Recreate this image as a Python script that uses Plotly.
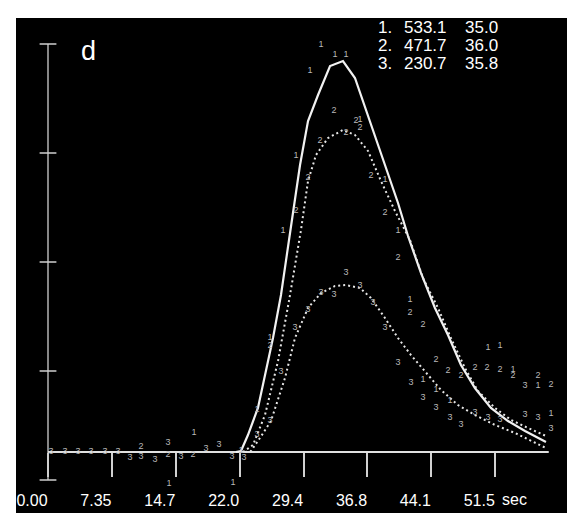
import plotly.graph_objects as go

# ---------------- data (time in s, signal in a.u.) ----------------
TICK_VALS = [0, 7.35, 14.7, 22.05, 29.4, 36.75, 44.1, 51.45]
TICK_TEXT = ["0.00", "7.35", "14.7", "22.0", "29.4", "36.8", "44.1", "51.5"]
Y_TICKS = [0, 150, 300, 450, 600]
BASELINE = 38.5
T_END = 57.6

fit1_t = [21.62, 22.20, 23.00, 24.15, 25.88, 26.80, 27.84, 28.99, 29.91, 31.06, 32.44, 33.93,
          35.31, 36.81, 38.76, 40.26, 41.41, 42.90, 44.51, 46.01, 47.50, 49.11, 50.95, 52.91,
          54.87, 57.28]
fit1_v = [38.5, 39.9, 61.9, 99.1, 195.4, 254.6, 339.9, 433.5, 494.0, 529.8, 569.7, 576.6,
          553.2, 502.3, 433.5, 381.2, 335.8, 284.9, 236.7, 199.5, 158.3, 126.6, 99.1, 81.2,
          67.4, 52.3]

fit2_t = [22.43, 23.58, 24.96, 26.46, 27.84, 29.10, 29.91, 30.83, 32.21, 33.93, 35.31, 36.81,
          38.30, 39.91, 41.64, 43.13, 44.86, 46.35, 47.96, 49.46, 51.42, 53.26, 55.21, 57.28]
fit2_v = [38.5, 48.2, 89.4, 163.8, 254.6, 344.0, 411.5, 447.3, 470.6, 481.7, 474.8, 452.8,
          411.5, 370.2, 330.3, 278.0, 236.7, 195.4, 154.1, 122.5, 99.1, 82.6, 71.6, 60.6]

fit3_t = [22.66, 23.35, 24.38, 25.65, 27.26, 28.41, 29.91, 31.40, 33.01, 34.28, 35.89, 37.15,
          38.76, 40.26, 41.75, 43.48, 45.20, 47.16, 49.11, 51.42, 53.72, 57.28]
fit3_v = [38.5, 39.9, 57.8, 81.2, 140.4, 195.4, 236.7, 257.3, 267.0, 268.3, 264.2, 250.5,
          222.9, 195.4, 172.0, 148.6, 123.9, 103.2, 89.4, 75.7, 64.7, 44.0]

pts1_t = [31.40, 33.01, 34.28, 30.14, 28.53, 27.03, 25.54, 24.04, 22.20, 35.89, 38.76, 40.26,
          41.64, 43.13, 44.63, 46.24, 50.61, 51.99, 53.49, 56.36, 57.86, 16.79, 13.92, 21.28]
pts1_v = [598.6, 584.9, 584.9, 562.8, 445.9, 342.7, 195.4, 96.3, 39.9, 495.4, 412.8, 342.7,
          247.7, 137.6, 123.9, 108.7, 181.6, 184.4, 151.4, 129.4, 90.8, 64.7, -5.5, -4.1]

pts2_t = [32.90, 35.43, 35.89, 34.28, 31.29, 29.91, 37.15, 38.76, 28.53, 25.54, 40.26, 41.64,
          43.13, 44.63, 46.01, 47.50, 49.11, 50.50, 51.99, 53.49, 56.36, 57.86, 60.30, 10.70,
          13.80, 16.68]
pts2_v = [507.8, 494.0, 484.4, 477.5, 466.5, 415.6, 418.3, 367.4, 370.2, 184.4, 305.5, 229.8,
          213.3, 165.1, 150.0, 143.1, 154.1, 154.1, 151.4, 143.1, 143.1, 130.7, 61.9, 45.4,
          34.4, 34.4]

pts3_t = [34.28, 35.89, 31.40, 32.90, 29.91, 37.38, 28.41, 38.76, 26.80, 40.26, 41.75, 25.54,
          24.04, 43.13, 44.63, 46.24, 47.50, 49.11, 50.61, 51.99, 54.87, 54.87, 56.36, 57.86,
          60.30, 60.30, 0.35, 1.96, 3.45, 4.95, 6.56, 8.05, 9.43, 10.70, 12.31, 13.80, 15.30,
          18.17, 19.67, 21.16, 22.54]
pts3_v = [284.9, 267.0, 257.3, 254.6, 233.9, 243.6, 209.2, 209.2, 148.6, 161.0, 133.5, 81.2,
          61.9, 112.8, 99.1, 85.3, 75.7, 92.2, 85.3, 82.6, 129.4, 89.4, 85.3, 70.2, 50.9, 39.9,
          38.5, 38.5, 38.5, 38.5, 38.5, 38.5, 30.3, 31.7, 27.5, 50.9, 31.7, 42.7, 48.2, 31.7,
          30.3]

SERIES_ID = ["1.", "2.", "3."]
PEAK = ["533.1", "471.7", "230.7"]
TTP = ["35.0", "36.0", "35.8"]
PANEL = "d"
UNIT = "sec"

# ---------------- layout geometry ----------------
W, H = 575, 513
ML, MT = 8, 10
X_RANGE = [-3.681, 61.54]
Y_RANGE = [-56.42, 635.78]
Y_AXIS_T = 0.0


def px_x(px):
    return (px - ML) / (W - ML)


def px_y(py):
    return (H - py) / (H - MT)


LINE = "#f2f2f2"
DOT = "#e6e6e6"
PT = "#b8b8b8"
FONT = "Liberation Sans, Arial, sans-serif"

fig = go.Figure()

# axes drawn as lines in data space
fig.add_trace(go.Scatter(x=[Y_AXIS_T, Y_AXIS_T], y=[Y_TICKS[0], Y_TICKS[-1]], mode="lines",
                         line=dict(color="#cfcfcf", width=1.3), hoverinfo="skip"))
fig.add_trace(go.Scatter(x=[Y_AXIS_T] * len(Y_TICKS), y=Y_TICKS, mode="markers",
                         marker=dict(symbol="line-ew", size=12,
                                     line=dict(color="#cfcfcf", width=1.5)),
                         hoverinfo="skip"))
fig.add_trace(go.Scatter(x=[Y_AXIS_T, T_END], y=[BASELINE, BASELINE], mode="lines",
                         line=dict(color="#e0e0e0", width=2), hoverinfo="skip"))

# fitted curves
fig.add_trace(go.Scatter(x=fit1_t, y=fit1_v, mode="lines",
                         line=dict(color=LINE, width=2.2)))
fig.add_trace(go.Scatter(x=fit2_t, y=fit2_v, mode="lines",
                         line=dict(color=DOT, width=2, dash="2px,3px")))
fig.add_trace(go.Scatter(x=fit3_t, y=fit3_v, mode="lines",
                         line=dict(color=DOT, width=2, dash="2px,3px")))

# measured points drawn as numerals
for tt, vv, lab in [(pts1_t, pts1_v, "1"), (pts2_t, pts2_v, "2"), (pts3_t, pts3_v, "3")]:
    fig.add_trace(go.Scatter(x=tt, y=vv, mode="text", text=[lab] * len(tt),
                             textposition="middle center", cliponaxis=False,
                             textfont=dict(family=FONT, size=9, color=PT)))

annotations = [dict(x=px_x(80), y=px_y(43), xref="paper", yref="paper", text=PANEL,
                    showarrow=False, xanchor="center", yanchor="middle",
                    font=dict(family=FONT, size=27, color="white")),
               dict(x=px_x(492), y=px_y(491), xref="paper", yref="paper", text=UNIT,
                    showarrow=False, xanchor="left", yanchor="middle",
                    font=dict(family=FONT, size=16, color="white"))]
for i in range(3):
    yy = px_y(19 + 18 * i)
    for px, txt in [(368, SERIES_ID[i]), (394, PEAK[i]), (455, TTP[i])]:
        annotations.append(dict(x=px_x(px), y=yy, xref="paper", yref="paper", text=txt,
                                showarrow=False, xanchor="left", yanchor="middle",
                                font=dict(family=FONT, size=17, color="white")))

fig.update_layout(
    width=W, height=H,
    margin=dict(l=ML, r=0, t=MT, b=0, pad=0),
    paper_bgcolor="white", plot_bgcolor="black",
    showlegend=False,
    annotations=annotations,
    xaxis=dict(range=X_RANGE, showgrid=False, zeroline=False, showline=False,
               tickvals=TICK_VALS, ticktext=TICK_TEXT, ticks="outside", ticklen=24,
               tickwidth=1.5, tickcolor="#d0d0d0", anchor="free",
               position=(BASELINE - Y_RANGE[0]) / (Y_RANGE[1] - Y_RANGE[0]),
               ticklabelshift=-16, ticklabelstandoff=10,
               tickfont=dict(family=FONT, size=16, color="white")),
    yaxis=dict(range=Y_RANGE, visible=False),
)

fig.write_html("out.html", config={"displayModeBar": False})
